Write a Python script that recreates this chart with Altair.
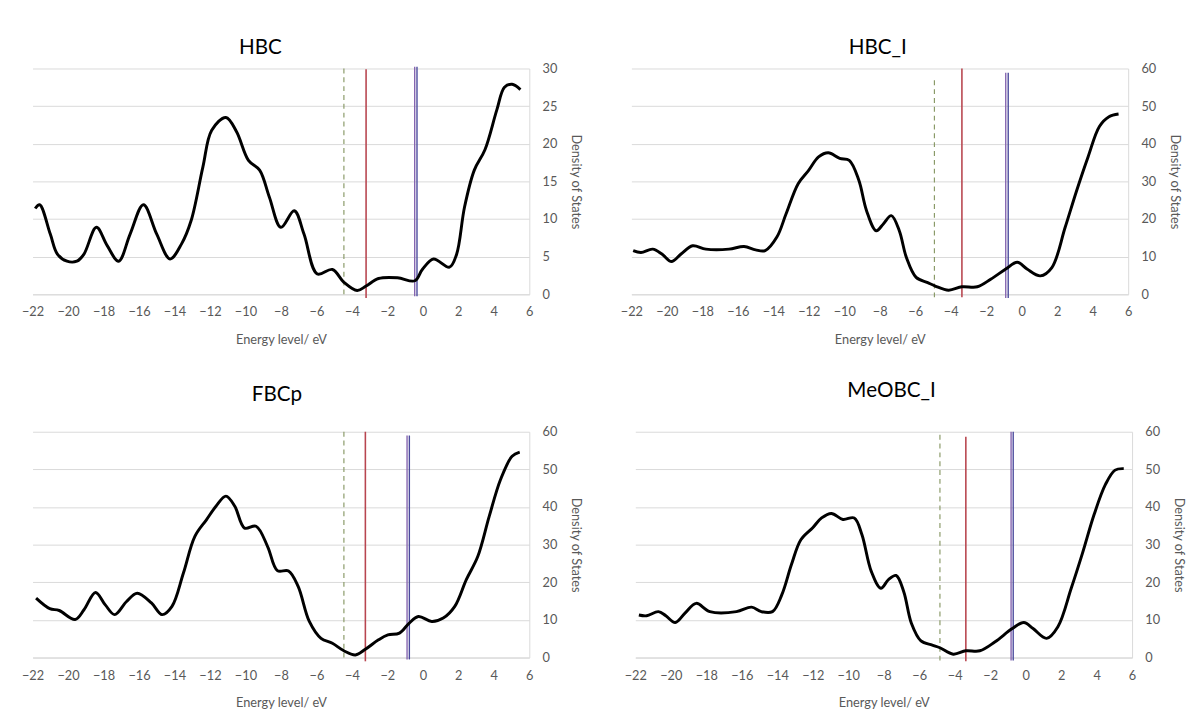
import altair as alt
import pandas as pd

x_ticks = list(range(-22, 7, 2))

# ---------------- data ----------------
hbc_x = [-21.85, -21.6, -21.0, -20.6, -20.06, -19.5, -19.1, -18.4, -17.8, -17.15, -16.5, -15.75,
         -15.0, -14.25, -13.6, -13.06, -12.4, -11.9, -11.1, -10.5, -9.83, -9.2, -8.65, -8.0,
         -7.25, -6.7, -5.95, -5.1, -4.45, -3.7, -3.2, -2.5, -1.43, -0.45, -0.03, 0.6, 1.5,
         1.9, 2.35, 2.9, 3.5, 4.17, 4.6, 5.03, 5.5]
hbc_y = [11.4, 11.9, 8.0, 5.35, 4.4, 4.4, 5.35, 8.9, 6.5, 4.4, 8.0, 11.9,
         8.0, 4.7, 6.7, 9.8, 16.9, 21.8, 23.5, 21.6, 17.8, 16.5, 12.9, 8.9,
         11.1, 8.0, 2.7, 3.3, 1.6, 0.5, 1.1, 2.1, 2.2, 1.8, 3.3, 4.7, 3.6,
         5.3, 11.6, 16.5, 19.2, 24.5, 27.5, 27.9, 27.2]

hbci_x = [-21.9, -21.46, -20.8, -20.28, -19.74, -19.2, -18.55, -17.8, -16.5, -15.65, -15.0,
          -14.46, -13.8, -13.28, -12.6, -12.0, -11.45, -10.9, -10.26, -9.72, -9.18, -8.75,
          -8.2, -7.8, -7.35, -6.9, -6.5, -5.95, -5.3, -4.87, -4.12, -3.37, -2.5, -1.75, -0.9,
          -0.25, 0.3, 1.05, 1.7, 2.45, 3.1, 3.74, 4.38, 4.92, 5.46]
hbci_y = [11.6, 11.1, 12.0, 10.7, 8.7, 10.7, 12.9, 12.0, 12.0, 12.7, 11.8,
          11.6, 15.2, 21.4, 29.4, 33.0, 36.5, 37.6, 36.1, 35.6, 30.3, 22.3,
          16.9, 18.7, 20.9, 16.9, 9.8, 4.5, 3.1, 2.2, 1.1, 2.0, 2.0, 4.0, 6.7,
          8.5, 6.7, 4.9, 7.1, 17.8, 27.6, 36.5, 44.6, 47.2, 47.9]

fbcp_x = [-21.8, -21.03, -20.5, -19.6, -19.1, -18.45, -17.9, -17.37, -16.7, -16.1, -15.3,
          -14.7, -14.14, -13.5, -12.85, -12.2, -11.66, -11.1, -10.6, -10.05, -9.4, -8.75,
          -8.2, -7.57, -7.03, -6.4, -5.74, -5.1, -4.45, -3.8, -3.24, -2.5, -1.97, -1.32,
          -0.78, -0.25, 0.5, 1.15, 1.8, 2.45, 3.1, 3.74, 4.38, 5.03, 5.46]
fbcp_y = [15.8, 13.0, 12.5, 10.1, 12.7, 17.3, 14.0, 11.4, 14.9, 17.1, 14.5,
          11.4, 13.6, 22.4, 32.2, 36.6, 40.2, 42.9, 40.2, 34.4, 34.9, 29.5,
          23.1, 23.0, 18.9, 9.6, 5.1, 3.8, 1.8, 0.7, 2.2, 4.7, 6.0, 6.5,
          9.1, 10.9, 9.6, 10.5, 13.6, 20.7, 26.9, 37.5, 47.3, 53.5, 54.6]

meobc_x = [-21.8, -21.36, -20.7, -20.28, -19.75, -19.2, -18.57, -17.8, -16.3, -15.45, -14.9,
           -14.27, -13.74, -13.2, -12.67, -12.0, -11.5, -10.95, -10.3, -9.66, -9.23, -8.7,
           -8.16, -7.73, -7.3, -6.87, -6.44, -5.9, -5.26, -4.83, -4.08, -3.37, -2.58, -1.72,
           -0.75, -0.1, 0.42, 1.18, 1.82, 2.57, 3.21, 3.86, 4.5, 5.04, 5.53]
meobc_y = [11.3, 11.1, 12.2, 11.1, 9.3, 11.8, 14.4, 12.2, 12.2, 13.4, 12.2,
           12.2, 16.7, 24.7, 31.3, 34.5, 37.1, 38.3, 36.7, 37.1, 32.7, 22.9,
           18.4, 20.7, 21.8, 17.5, 9.1, 4.4, 3.3, 2.6, 0.9, 1.8, 1.8, 4.2,
           7.7, 9.3, 7.7, 5.1, 8.2, 18.4, 27.8, 38.0, 46.0, 49.8, 50.2]

titles = ["HBC", "HBC_I", "FBCp", "MeOBC_I"]
curves_x = [hbc_x, hbci_x, fbcp_x, meobc_x]
curves_y = [hbc_y, hbci_y, fbcp_y, meobc_y]
y_max = [30, 60, 60, 60]
y_step = [5, 10, 10, 10]

# marker lines: energy position and vertical extent
green_x = [-4.45, -4.92, -4.45, -4.83]
green_y = [(0, 30), (-0.8, 57.3), (0, 60), (-0.8, 60)]
red_x = [-3.2, -3.37, -3.24, -3.37]
red_y = [(-0.5, 29.9), (-0.8, 60), (-1.0, 60), (-1.0, 58.7)]
purple_x = [-0.46, -0.9, -0.89, -0.82]
blue_x = [-0.33, -0.76, -0.76, -0.7]
double_y = [(-0.25, 30.25), (-1.0, 58.9), (-0.5, 59.0), (-0.8, 60)]

title_offsets = [5, 5, 21, 25]
title_dx = [-21, -2, -4, 8]

FONT = "Lato"
GREY = "#595959"


def panel(i):
    df = pd.DataFrame({"x": curves_x[i], "y": curves_y[i]})
    x_axis = alt.Axis(values=x_ticks, grid=False, title="Energy level/ eV",
                      ticks=False, labelPadding=12, titlePadding=15,
                      labelOverlap=False, labelFlush=False,
                      domainColor="#d9d9d9", labelColor=GREY, titleColor=GREY,
                      labelFontSize=13, titleFontSize=13, titleFontWeight="normal",
                      labelFont=FONT, titleFont=FONT)
    y_axis = alt.Axis(orient="right", values=list(range(0, y_max[i] + 1, y_step[i])),
                      grid=True, gridColor="#d9d9d9", ticks=False,
                      labelOverlap=False, labelFlush=False,
                      title="Density of States", labelPadding=13, titlePadding=12,
                      domainColor="#d9d9d9", labelColor=GREY, titleColor=GREY,
                      labelFontSize=13, titleFontSize=13, titleFontWeight="normal",
                      labelFont=FONT, titleFont=FONT)
    x_scale = alt.Scale(domain=[-22, 6], nice=False)
    y_scale = alt.Scale(domain=[0, y_max[i]], nice=False)

    def xs():
        return alt.X("x:Q", scale=x_scale, axis=x_axis)

    def ys():
        return alt.Y("y:Q", scale=y_scale, axis=y_axis)

    line = alt.Chart(df).mark_line(color="black", strokeWidth=3,
                                   interpolate="catmull-rom").encode(x=xs(), y=ys())

    def rule(xv, yr, color, width, dash=None):
        d = pd.DataFrame({"x": [xv], "y": [yr[0]], "y2": [yr[1]]})
        kw = dict(color=color, strokeWidth=width)
        if dash:
            kw["strokeDash"] = dash
        return alt.Chart(d).mark_rule(**kw).encode(x=xs(), y=ys(), y2="y2:Q")

    layers = [
        rule(green_x[i], green_y[i], "#8a9a68", 1.2, [5, 4]),
        rule(red_x[i], red_y[i], "#b8454f", 1.6),
        rule(purple_x[i], double_y[i], "#8565b0", 1.4),
        rule(blue_x[i], double_y[i], "#4a4a9c", 1.4),
        line,
    ]
    return alt.layer(*layers).properties(
        width=506, height=230,
        title=alt.TitleParams(titles[i], fontSize=21, font=FONT, fontWeight="normal",
                              color="black", offset=title_offsets[i], anchor="middle",
                              dx=title_dx[i]),
    )


top = alt.hconcat(panel(0), panel(1), spacing=38)
bottom = alt.hconcat(panel(2), panel(3), spacing=42)
chart = alt.vconcat(top, bottom, spacing=35).properties(
    padding={"left": 13, "top": 23, "right": 5, "bottom": 5},
    background="white",
).configure_view(stroke=None).configure_axis(labelOverlap=False)

chart.save("out.html", embed_options={"renderer": "svg", "actions": False})
